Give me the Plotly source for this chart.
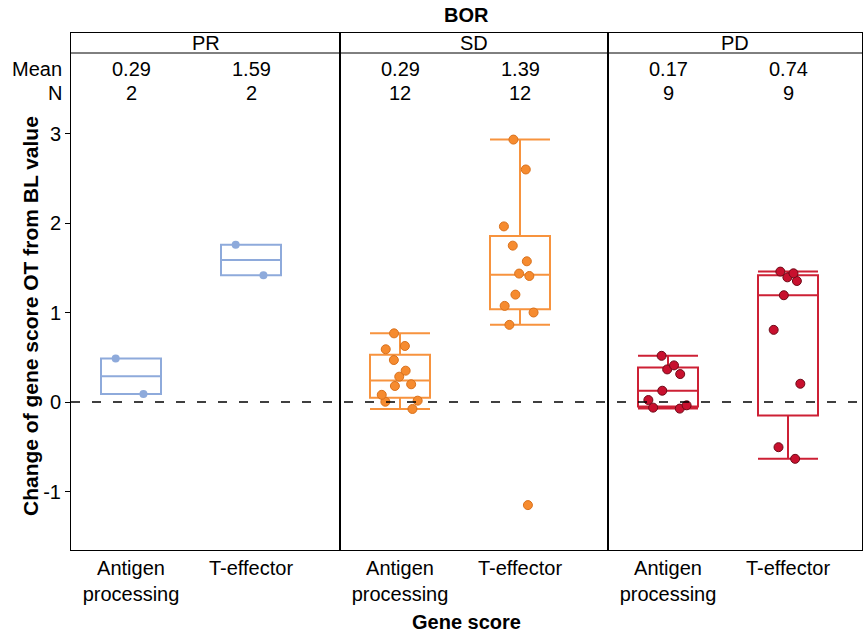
import plotly.graph_objects as go
from plotly.subplots import make_subplots

# ---------------- data ----------------
groups = ["PR", "SD", "PD"]
categories = ["Antigen<br>processing", "T-effector"]

pr_antigen = [0.487, 0.089]
pr_teffector = [1.758, 1.416]
sd_antigen = [0.767, 0.626, 0.589, 0.469, 0.350, 0.283, 0.198, 0.179, 0.080, 0.015, 0.003, -0.078]
sd_teffector = [2.932, 2.598, 1.962, 1.747, 1.572, 1.435, 1.408, 1.200, 1.074, 1.000, 0.862, -1.152]
pd_antigen = [0.516, 0.409, 0.364, 0.312, 0.126, 0.022, -0.037, -0.074, -0.063]
pd_teffector = [1.457, 1.438, 1.393, 1.352, 1.193, 0.806, 0.204, -0.505, -0.635]

pr_means = ["0.29", "1.59"]
sd_means = ["0.29", "1.39"]
pd_means = ["0.17", "0.74"]

y_ticks = [-1, 0, 1, 2, 3]
y_ticktext = ["-1", "0", "1", "2", "3"]

# ---------------- styling ----------------
line_colors = {"PR": "#8EAADB", "SD": "#F7933E", "PD": "#CD2035"}
marker_fill = {"PR": "#8EAADB", "SD": "#F68B2F", "PD": "#C8102E"}
marker_edge = {"PR": "#8EAADB", "SD": "#D9711C", "PD": "#6E0A18"}
marker_size = {"PR": 8, "SD": 9, "PD": 9}

series = {
    "PR": [pr_antigen, pr_teffector],
    "SD": [sd_antigen, sd_teffector],
    "PD": [pd_antigen, pd_teffector],
}
means = {"PR": pr_means, "SD": sd_means, "PD": pd_means}

FONT = "Liberation Sans, Arial, sans-serif"

W, H = 864, 634
ML, MR, MT, MB = 71, 2, 33, 84
PW = W - ML - MR
PH = H - MT - MB

def py(pix):  # pixel row -> paper y
    return (H - MB - pix) / PH

def px(pix):  # pixel col -> paper x
    return (pix - ML) / PW

panel_px = [269, 268, 254]
unit = 120.0

fig = make_subplots(rows=1, cols=3, shared_yaxes=True, horizontal_spacing=0,
                    column_widths=panel_px)

for gi, g in enumerate(groups):
    for ci, cat in enumerate(categories):
        vals = series[g][ci]
        fig.add_trace(go.Box(
            x=[cat] * len(vals), y=vals,
            boxpoints="all", jitter=0.8, pointpos=0,
            width=0.5, whiskerwidth=1, quartilemethod="exclusive",
            line=dict(color=line_colors[g], width=2),
            fillcolor="rgba(0,0,0,0)",
            marker=dict(color=marker_fill[g], size=marker_size[g],
                        line=dict(color=marker_edge[g], width=1 if g != "PR" else 0)),
            showlegend=False, hoverinfo="y",
        ), row=1, col=gi + 1)

for gi in range(3):
    rng_right = panel_px[gi] / unit - 0.5
    fig.update_xaxes(
        type="category", categoryorder="array", categoryarray=categories,
        range=[-0.5, rng_right], showline=True, mirror=True,
        linecolor="black", linewidth=1, ticks="", showgrid=False,
        tickfont=dict(family=FONT, size=20, color="black"),
        row=1, col=gi + 1)

y_top = (402 - MT) / 89.5
y_bot = (402 - (H - MB)) / 89.5
fig.update_yaxes(range=[y_bot, y_top], showline=True, mirror=True,
                 linecolor="black", linewidth=1, showgrid=False, zeroline=False)
fig.update_yaxes(tickvals=y_ticks, ticktext=y_ticktext, ticks="outside",
                 ticklen=5, tickcolor="black",
                 tickfont=dict(family=FONT, size=20, color="black"), row=1, col=1)

shapes = []
shapes.append(dict(type="line", xref="paper", yref="y", x0=0, x1=1, y0=0, y1=0,
                   line=dict(color="black", width=1.5, dash="9px,12px")))
shapes.append(dict(type="line", xref="paper", yref="paper", x0=0, x1=1,
                   y0=py(53), y1=py(53), line=dict(color="black", width=1)))
fig.update_layout(shapes=shapes)

ann = []
ann.append(dict(text="<b>BOR</b>", xref="paper", yref="paper", x=0.5, y=py(15),
                showarrow=False, font=dict(family=FONT, size=20, color="black"),
                xanchor="center", yanchor="middle"))
xrefs = ["x domain", "x2 domain", "x3 domain"]
xdata = ["x", "x2", "x3"]
for gi, g in enumerate(groups):
    ann.append(dict(text=g, xref=xrefs[gi], yref="paper", x=0.5, y=py(43),
                    showarrow=False, font=dict(family=FONT, size=20, color="black"),
                    xanchor="center", yanchor="middle"))
    for ci, cat in enumerate(categories):
        ann.append(dict(text=means[g][ci], xref=xdata[gi], yref="paper", x=ci, y=py(69),
                        showarrow=False, font=dict(family=FONT, size=20, color="black"),
                        xanchor="center", yanchor="middle"))
        ann.append(dict(text=str(len(series[g][ci])), xref=xdata[gi], yref="paper", x=ci,
                        y=py(93), showarrow=False,
                        font=dict(family=FONT, size=20, color="black"),
                        xanchor="center", yanchor="middle"))
ann.append(dict(text="Mean", xref="paper", yref="paper", x=px(64), y=py(69),
                showarrow=False, font=dict(family=FONT, size=20, color="black"),
                xanchor="right", yanchor="middle"))
ann.append(dict(text="N", xref="paper", yref="paper", x=px(64), y=py(93),
                showarrow=False, font=dict(family=FONT, size=20, color="black"),
                xanchor="right", yanchor="middle"))
ann.append(dict(text="<b>Change of gene score OT from BL value</b>", xref="paper",
                yref="paper", x=px(30), y=py(316), textangle=-90, showarrow=False,
                font=dict(family=FONT, size=21, color="black"),
                xanchor="center", yanchor="middle"))
ann.append(dict(text="<b>Gene score</b>", xref="paper", yref="paper", x=0.5, y=py(622),
                showarrow=False, font=dict(family=FONT, size=20, color="black"),
                xanchor="center", yanchor="middle"))
fig.update_layout(annotations=ann)

fig.update_layout(
    width=W, height=H,
    margin=dict(l=ML, r=MR, t=MT, b=MB),
    plot_bgcolor="white", paper_bgcolor="white",
    font=dict(family=FONT, size=20, color="black"),
)

fig.write_html("out.html", config={"displayModeBar": False},
               post_script="document.body.style.margin='0';document.body.style.overflow='hidden';")
